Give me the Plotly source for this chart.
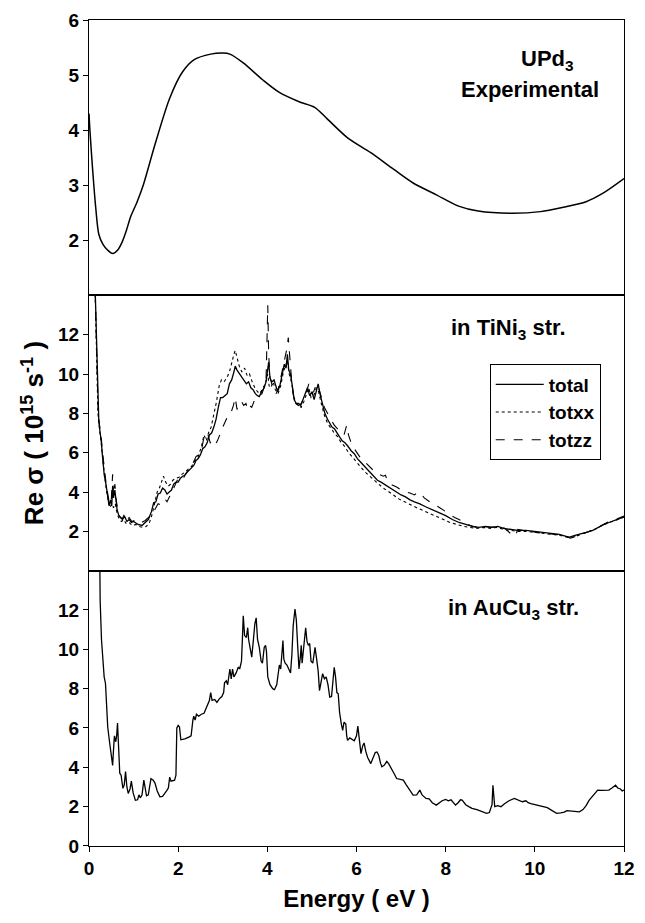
import plotly.graph_objects as go
from plotly.subplots import make_subplots

# ---------------- data ----------------
# Top panel: UPd3 experimental
exp_x = [0.0, 0.02, 0.08, 0.15, 0.22, 0.31, 0.42, 0.53, 0.65, 0.75, 0.84, 0.93, 1.08, 1.22, 1.48,
         1.81, 2.10, 2.36, 2.73, 3.0, 3.16, 3.46, 3.90, 4.26, 4.70, 5.07, 5.36, 5.80, 6.32, 6.83,
         7.27, 7.78, 8.29, 8.73, 9.47, 10.13, 10.64, 11.15, 11.52, 12.0]
exp_y = [4.3, 4.0, 3.3, 2.6, 2.11, 1.93, 1.82, 1.76, 1.83, 1.98, 2.18, 2.42, 2.70, 3.01, 3.74,
         4.58, 5.06, 5.28, 5.38, 5.40, 5.38, 5.22, 4.91, 4.69, 4.52, 4.41, 4.19, 3.86, 3.59, 3.29,
         3.04, 2.83, 2.62, 2.53, 2.49, 2.52, 2.60, 2.70, 2.85, 3.12]

# Middle panel: TiNi3 structure
total_x = [0.13, 0.17, 0.20, 0.22, 0.25, 0.27, 0.30, 0.34, 0.38, 0.41, 0.45, 0.48, 0.51, 0.53, 0.55,
           0.58, 0.60, 0.63, 0.67, 0.71, 0.75, 0.80, 0.85, 0.90, 0.95, 1.00, 1.05, 1.10, 1.19, 1.25,
           1.33, 1.40, 1.45, 1.50, 1.55, 1.60, 1.65, 1.70, 1.75, 1.80, 1.85, 1.90, 1.95, 2.00, 2.05,
           2.10, 2.15, 2.20, 2.25, 2.30, 2.35, 2.40, 2.45, 2.50, 2.55, 2.60, 2.65, 2.70, 2.75, 2.80,
           2.85, 2.90, 2.95, 3.00, 3.05, 3.10, 3.15, 3.20, 3.25, 3.28, 3.32, 3.38, 3.42, 3.47, 3.53,
           3.58, 3.63, 3.68, 3.73, 3.78, 3.82, 3.87, 3.93, 3.97, 4.00, 4.03, 4.06, 4.10, 4.15, 4.20,
           4.23, 4.28, 4.33, 4.38, 4.42, 4.45, 4.48, 4.52, 4.56, 4.60, 4.65, 4.70, 4.75, 4.80, 4.85,
           4.90, 4.95, 5.00, 5.05, 5.10, 5.14, 5.18, 5.23, 5.29, 5.35, 5.40, 5.45, 5.51, 5.56, 5.62,
           5.68, 5.74, 5.80, 5.88, 5.95, 6.02, 6.10, 6.18, 6.25, 6.32, 6.39, 6.47, 6.55, 6.62, 6.69,
           6.80, 6.90, 7.00, 7.10, 7.20, 7.30, 7.42, 7.55, 7.70, 7.86, 8.00, 8.15, 8.30, 8.45, 8.60,
           8.74, 8.90, 9.05, 9.17, 9.30, 9.45, 9.61, 9.80, 10.00, 10.20, 10.40, 10.55, 10.70, 10.78,
           10.90, 11.00, 11.15, 11.30, 11.45, 11.55, 11.66, 11.80, 11.90, 12.00]
total_y = [15.0, 11.5, 8.2, 7.6, 7.0, 6.7, 5.9, 4.9, 4.4, 3.8, 3.3, 3.6, 3.3, 4.3, 3.7,
           4.1, 3.5, 3.1, 2.8, 2.7, 2.6, 2.75, 2.5, 2.6, 2.45, 2.5, 2.4, 2.35, 2.3, 2.45,
           2.6, 3.0, 3.45, 3.5, 3.9, 3.95, 4.2, 4.1, 3.9, 4.0, 4.1, 4.4, 4.5, 4.5, 4.7,
           4.8, 4.85, 5.0, 5.1, 5.2, 5.35, 5.6, 5.7, 5.9, 6.2, 6.3, 6.5, 6.9, 7.0, 7.3,
           7.7, 8.3, 8.8, 8.8, 8.9, 9.0, 9.5, 9.7, 10.1, 10.4, 10.2, 10.0, 9.8, 9.7, 9.5,
           9.6, 9.3, 9.2, 9.0, 8.9, 8.85, 9.1, 9.3, 9.6, 10.2, 10.6, 9.8, 9.6, 9.7, 9.3,
           9.1, 9.4, 9.9, 10.5, 10.3, 11.0, 10.2, 10.0, 9.4, 8.7, 8.5, 8.5, 8.4, 8.7, 8.9,
           9.3, 8.9, 9.1, 8.7, 9.2, 9.5, 9.0, 8.6, 8.0, 7.7, 7.5, 7.3, 7.2, 7.0, 6.8,
           6.6, 6.5, 6.35, 6.1, 5.95, 5.7, 5.5, 5.3, 5.1, 4.95, 4.8, 4.6, 4.5, 4.4, 4.3,
           4.1, 4.0, 3.85, 3.75, 3.6, 3.5, 3.4, 3.25, 3.1, 2.95, 2.8, 2.6, 2.45, 2.35, 2.25,
           2.2, 2.25, 2.2, 2.25, 2.15, 2.1, 2.05, 2.05, 2.0, 1.95, 1.9, 1.85, 1.75, 1.7,
           1.8, 1.85, 1.95, 2.05, 2.25, 2.35, 2.45, 2.55, 2.65, 2.75]

totxx_x = [0.13, 0.17, 0.20, 0.24, 0.27, 0.31, 0.35, 0.39, 0.43, 0.47, 0.51, 0.55, 0.59, 0.63, 0.68,
           0.73, 0.78, 0.83, 0.90, 0.97, 1.05, 1.12, 1.20, 1.28, 1.35, 1.42, 1.48, 1.53, 1.58, 1.63,
           1.67, 1.72, 1.78, 1.83, 1.88, 1.95, 2.02, 2.08, 2.15, 2.22, 2.30, 2.38, 2.45, 2.52, 2.58,
           2.63, 2.68, 2.74, 2.80, 2.86, 2.92, 2.97, 3.03, 3.09, 3.15, 3.20, 3.25, 3.28, 3.32, 3.37,
           3.43, 3.49, 3.55, 3.60, 3.66, 3.72, 3.78, 3.83, 3.88, 3.93, 3.98, 4.01, 4.04, 4.08, 4.13,
           4.18, 4.24, 4.30, 4.36, 4.41, 4.45, 4.49, 4.54, 4.59, 4.64, 4.70, 4.76, 4.82, 4.88, 4.93,
           4.98, 5.04, 5.10, 5.15, 5.21, 5.28, 5.35, 5.43, 5.50, 5.58, 5.66, 5.74, 5.82, 5.90, 6.00,
           6.10, 6.20, 6.30, 6.40, 6.50, 6.60, 6.70, 6.82, 6.95, 7.08, 7.20, 7.35, 7.50, 7.65, 7.80,
           7.95, 8.10, 8.25, 8.40, 8.55, 8.70, 8.85, 9.00, 9.15, 9.30, 9.45, 9.60, 9.80, 10.00, 10.20,
           10.40, 10.55, 10.70, 10.80, 10.92, 11.05, 11.20, 11.35, 11.50, 11.62, 11.75, 11.88, 12.00]
totxx_y = [15.0, 11.3, 8.0, 7.1, 6.6, 5.6, 4.7, 4.1, 3.6, 3.2, 3.4, 3.2, 3.4, 2.9, 2.6,
           2.5, 2.6, 2.4, 2.45, 2.3, 2.35, 2.25, 2.2, 2.25, 2.4, 2.9, 3.5, 4.0, 4.2, 4.6,
           4.8, 4.5, 4.3, 4.4, 4.6, 4.7, 4.75, 4.9, 5.0, 5.15, 5.3, 5.6, 5.8, 6.3, 6.9,
           6.6, 7.0, 7.3, 7.9, 8.6, 9.4, 9.7, 9.6, 9.8, 10.1, 10.6, 11.0, 11.2, 10.9, 10.4,
           10.1, 10.3, 9.9, 10.0, 9.6, 9.3, 9.1, 9.0, 9.2, 9.4, 9.7, 10.0, 9.4, 9.3, 9.6,
           9.2, 9.0, 9.4, 10.1, 10.4, 10.7, 10.0, 9.6, 8.9, 8.5, 8.4, 8.3, 8.6, 9.0, 9.3,
           8.8, 8.9, 9.3, 9.1, 8.5, 7.9, 7.5, 7.2, 7.0, 6.8, 6.5, 6.3, 6.0, 5.8, 5.5,
           5.25, 5.0, 4.8, 4.55, 4.35, 4.2, 4.05, 3.85, 3.65, 3.5, 3.35, 3.2, 3.05, 2.9, 2.75,
           2.6, 2.45, 2.35, 2.25, 2.2, 2.15, 2.2, 2.15, 2.2, 2.1, 2.05, 2.0, 2.0, 1.95, 1.9,
           1.85, 1.8, 1.72, 1.68, 1.75, 1.85, 1.95, 2.1, 2.3, 2.4, 2.5, 2.62, 2.72]

totzz_x = [0.13, 0.17, 0.20, 0.23, 0.27, 0.30, 0.34, 0.38, 0.42, 0.46, 0.50, 0.53, 0.55, 0.58, 0.61,
           0.65, 0.70, 0.75, 0.80, 0.85, 0.90, 0.96, 1.02, 1.10, 1.18, 1.26, 1.33, 1.40, 1.45, 1.50,
           1.55, 1.60, 1.65, 1.70, 1.75, 1.80, 1.86, 1.92, 1.98, 2.04, 2.10, 2.16, 2.22, 2.28, 2.34,
           2.40, 2.46, 2.52, 2.58, 2.62, 2.67, 2.72, 2.78, 2.83, 2.88, 2.94, 3.00, 3.06, 3.12, 3.18,
           3.24, 3.28, 3.32, 3.37, 3.42, 3.47, 3.52, 3.56, 3.60, 3.65, 3.70, 3.76, 3.82, 3.88, 3.93,
           3.97, 3.99, 4.01, 4.03, 4.06, 4.10, 4.15, 4.20, 4.25, 4.30, 4.35, 4.40, 4.44, 4.47, 4.50,
           4.54, 4.58, 4.63, 4.70, 4.76, 4.82, 4.88, 4.93, 4.98, 5.04, 5.10, 5.15, 5.21, 5.28, 5.35,
           5.42, 5.50, 5.58, 5.65, 5.72, 5.78, 5.82, 5.88, 5.95, 6.02, 6.10, 6.20, 6.30, 6.40, 6.50,
           6.60, 6.65, 6.70, 6.80, 6.90, 7.00, 7.10, 7.20, 7.30, 7.38, 7.45, 7.52, 7.60, 7.70, 7.80,
           7.90, 8.00, 8.10, 8.20, 8.30, 8.42, 8.55, 8.70, 8.85, 9.00, 9.15, 9.30, 9.40, 9.50, 9.56,
           9.62, 9.72, 9.85, 10.00, 10.20, 10.40, 10.55, 10.70, 10.80, 10.92, 11.05, 11.20, 11.35, 11.50, 11.62,
           11.75, 11.88, 12.00]
totzz_y = [15.0, 11.8, 8.5, 7.5, 6.9, 6.1, 5.2, 4.5, 3.9, 3.4, 3.6, 4.9, 3.8, 4.4, 3.6,
           3.0, 2.7, 2.65, 2.9, 2.6, 2.7, 2.5, 2.55, 2.4, 2.45, 2.55, 2.7, 2.8, 3.0, 3.2,
           3.4, 3.35, 3.5, 3.65, 3.5, 3.7, 4.0, 4.3, 4.6, 4.7, 4.6, 4.9, 5.1, 5.2, 5.5,
           5.8, 5.9, 6.1, 6.8, 6.7, 6.9, 6.5, 6.6, 6.4, 6.6, 7.0, 7.3, 7.6, 7.9, 8.0,
           8.4, 8.8, 8.2, 8.3, 8.6, 8.4, 8.5, 8.2, 8.4, 8.3, 8.6, 8.7, 8.9, 9.0, 9.3,
           9.6, 11.5, 13.5, 11.0, 9.8, 9.5, 9.3, 9.0, 9.3, 9.8, 10.3, 10.8, 11.3, 11.85, 10.9,
           9.8, 9.0, 8.5, 8.4, 8.5, 8.8, 9.1, 9.5, 9.0, 9.1, 9.5, 9.3, 8.8, 8.3, 8.0,
           7.7, 7.4, 7.2, 7.0, 6.9, 7.4, 6.9, 6.5, 6.2, 5.95, 5.7, 5.5, 5.25, 5.05, 4.9,
           4.8, 4.85, 4.5, 4.35, 4.25, 4.1, 4.0, 3.95, 3.85, 4.0, 3.9, 3.7, 3.55, 3.4, 3.3,
           3.15, 3.0, 2.85, 2.7, 2.6, 2.45, 2.3, 2.2, 2.25, 2.2, 2.25, 2.2, 2.0, 1.8, 1.75,
           2.1, 2.05, 2.05, 1.95, 1.9, 1.88, 1.82, 1.72, 1.65, 1.75, 1.85, 1.95, 2.1, 2.3, 2.45,
           2.55, 2.65, 2.78]

# Bottom panel: AuCu3 structure
au_x = [0.24, 0.25, 0.28, 0.32, 0.34, 0.37, 0.40, 0.42, 0.46, 0.50, 0.53, 0.55, 0.57, 0.60, 0.62,
        0.64, 0.66, 0.69, 0.72, 0.76, 0.79, 0.82, 0.85, 0.88, 0.92, 0.95, 0.99, 1.04, 1.09, 1.12,
        1.15, 1.19, 1.23, 1.26, 1.29, 1.33, 1.36, 1.39, 1.44, 1.48, 1.53, 1.59, 1.65, 1.70, 1.74,
        1.78, 1.81, 1.84, 1.92, 1.95, 1.97, 2.00, 2.03, 2.06, 2.15, 2.25, 2.29, 2.33, 2.35, 2.38,
        2.41, 2.46, 2.52, 2.58, 2.64, 2.70, 2.73, 2.76, 2.82, 2.87, 2.93, 2.98, 3.02, 3.04, 3.08,
        3.11, 3.16, 3.19, 3.22, 3.25, 3.30, 3.35, 3.38, 3.42, 3.44, 3.46, 3.49, 3.53, 3.56, 3.58,
        3.62, 3.65, 3.68, 3.72, 3.75, 3.78, 3.82, 3.86, 3.89, 3.93, 3.96, 3.98, 4.01, 4.06, 4.12,
        4.16, 4.21, 4.25, 4.27, 4.30, 4.32, 4.35, 4.37, 4.40, 4.44, 4.48, 4.52, 4.55, 4.58, 4.62,
        4.65, 4.68, 4.71, 4.74, 4.76, 4.78, 4.81, 4.84, 4.86, 4.89, 4.92, 4.95, 4.98, 5.02, 5.05,
        5.07, 5.10, 5.14, 5.17, 5.20, 5.24, 5.28, 5.32, 5.36, 5.40, 5.44, 5.47, 5.50, 5.53, 5.56,
        5.59, 5.62, 5.66, 5.69, 5.72, 5.76, 5.78, 5.80, 5.85, 5.90, 5.95, 6.00, 6.03, 6.06, 6.10,
        6.14, 6.17, 6.21, 6.25, 6.32, 6.36, 6.42, 6.46, 6.50, 6.54, 6.57, 6.62, 6.68, 6.72, 6.78,
        6.84, 6.90, 6.97, 7.05, 7.12, 7.20, 7.27, 7.35, 7.42, 7.47, 7.56, 7.63, 7.70, 7.79, 7.86,
        7.92, 8.00, 8.06, 8.12, 8.18, 8.22, 8.28, 8.33, 8.37, 8.45, 8.52, 8.59, 8.70, 8.80, 8.92,
        8.98, 9.02, 9.04, 9.06, 9.08, 9.10, 9.17, 9.24, 9.32, 9.42, 9.54, 9.62, 9.72, 9.80, 9.85,
        9.91, 10.00, 10.10, 10.20, 10.28, 10.35, 10.42, 10.49, 10.58, 10.66, 10.72, 10.78, 10.88, 11.00, 11.08,
        11.15, 11.22, 11.30, 11.36, 11.41, 11.50, 11.58, 11.66, 11.73, 11.81, 11.86, 11.92, 11.96, 12.00]
au_y = [15.0, 12.5, 10.5, 8.9, 8.6, 8.25, 7.0, 6.05, 5.3, 4.6, 4.1, 4.9, 5.6, 5.3, 5.6,
        6.25, 5.0, 3.7, 3.6, 2.93, 3.1, 3.78, 3.0, 2.67, 2.9, 3.3, 2.7, 2.33, 2.35, 2.6,
        2.45, 2.6, 3.35, 2.8, 2.55, 2.6, 3.1, 3.43, 3.35, 3.2, 2.8, 2.5, 2.52, 2.65, 2.8,
        2.95, 3.5, 3.3, 3.35, 3.6, 6.0, 6.13, 6.05, 5.4, 5.45, 5.55, 5.6, 6.4, 6.6, 6.4,
        6.7, 6.6, 6.7, 6.75, 7.1, 7.4, 7.8, 7.4, 7.45, 7.3, 7.5, 7.6, 7.8, 8.3, 8.4,
        8.2, 9.0, 8.5, 9.0, 8.6, 8.8, 9.1, 9.0, 9.4, 10.5, 11.7, 10.7, 10.6, 11.1, 10.5,
        10.0, 9.6, 10.3, 11.3, 11.6, 10.5, 10.1, 9.4, 9.3, 10.1, 10.2, 9.9, 8.6, 8.2, 8.0,
        7.95, 8.2, 8.8, 9.2, 9.0, 9.5, 10.45, 9.5, 9.3, 9.2, 9.0, 8.8, 9.7, 11.2, 12.05,
        11.5, 10.2, 9.0, 9.6, 10.2, 9.3, 9.9, 10.5, 11.1, 10.4, 10.2, 10.3, 9.4, 9.3, 10.0,
        10.1, 9.6, 8.9, 7.9, 8.3, 8.76, 8.5, 8.6, 8.2, 7.57, 7.6, 8.5, 9.09, 8.6, 7.8,
        7.74, 6.8, 6.2, 5.88, 6.3, 6.2, 5.6, 5.37, 5.5, 5.4, 5.35, 5.6, 6.1, 5.5, 4.7,
        5.1, 5.24, 4.8, 4.5, 4.19, 4.4, 4.75, 4.78, 4.6, 4.2, 4.03, 4.1, 4.3, 4.19, 3.9,
        3.7, 3.43, 3.4, 3.35, 3.1, 2.8, 2.59, 2.6, 2.84, 2.6, 2.42, 2.4, 2.2, 2.08, 2.2,
        2.3, 2.37, 2.3, 2.35, 2.2, 2.08, 2.2, 2.35, 2.33, 2.1, 2.0, 1.91, 1.85, 1.75, 1.66,
        1.7, 2.0, 2.1, 3.09, 2.3, 2.0, 2.05, 2.0, 2.15, 2.3, 2.42, 2.35, 2.25, 2.3, 2.2,
        2.16, 2.1, 2.05, 2.0, 1.95, 1.85, 1.75, 1.66, 1.68, 1.72, 1.8, 1.79, 1.75, 1.74, 1.85,
        2.05, 2.33, 2.55, 2.75, 2.84, 2.83, 2.85, 2.84, 2.95, 3.09, 2.95, 2.9, 2.8, 2.84]

x_ticks = [0, 2, 4, 6, 8, 10, 12]
top_ticks = [2, 3, 4, 5, 6]
mid_ticks = [2, 4, 6, 8, 10, 12]
bot_ticks = [0, 2, 4, 6, 8, 10, 12]

# ---------------- figure ----------------
FONT = "Liberation Sans, Arial, sans-serif"
fig = make_subplots(rows=3, cols=1, shared_xaxes=True, vertical_spacing=0)

fig.add_trace(go.Scatter(x=exp_x, y=exp_y, mode="lines",
                         line=dict(color="black", width=1.5, shape="spline", smoothing=0.8),
                         showlegend=False), row=1, col=1)

fig.add_trace(go.Scatter(x=total_x, y=total_y, mode="lines", name="total",
                         line=dict(color="black", width=1.3)), row=2, col=1)
fig.add_trace(go.Scatter(x=totxx_x, y=totxx_y, mode="lines", name="totxx",
                         line=dict(color="black", width=1.1, dash="dot")), row=2, col=1)
fig.add_trace(go.Scatter(x=totzz_x, y=totzz_y, mode="lines", name="totzz",
                         line=dict(color="black", width=1.1, dash="dash")), row=2, col=1)

fig.add_trace(go.Scatter(x=au_x, y=au_y, mode="lines", line=dict(color="black", width=1.3),
                         showlegend=False), row=3, col=1)

tickfont = dict(family=FONT, size=19, color="black", weight="bold")
axis_common = dict(showline=True, linecolor="black", linewidth=1, mirror=True, showgrid=False,
                   zeroline=False, tickfont=tickfont, tickcolor="black")

for r in (1, 2, 3):
    fig.update_xaxes(range=[0, 12], tickvals=x_ticks, row=r, col=1, **axis_common,
                     ticks="outside" if r == 3 else "", ticklen=5, showticklabels=(r == 3))

fig.update_yaxes(range=[1, 6], tickvals=top_ticks, ticks="outside", ticklen=5, row=1, col=1, **axis_common)
fig.update_yaxes(range=[0, 14], tickvals=mid_ticks, ticks="outside", ticklen=5, row=2, col=1, **axis_common)
fig.update_yaxes(range=[0, 14], tickvals=bot_ticks, ticks="outside", ticklen=5, row=3, col=1, **axis_common)

fig.update_xaxes(title=dict(text="Energy ( eV )", font=dict(family=FONT, size=24, color="black", weight="bold"),
                            standoff=12), row=3, col=1)
fig.update_yaxes(title=dict(text="Re σ ( 10<sup>15</sup> s<sup>-1</sup> )",
                            font=dict(family=FONT, size=26, color="black", weight="bold"), standoff=6),
                 row=2, col=1)

ann_font = dict(family=FONT, size=22, color="black", weight="bold")
fig.add_annotation(x=10.28, y=5.28, xref="x", yref="y", text="UPd<sub>3</sub>", showarrow=False, font=ann_font)
fig.add_annotation(x=9.9, y=4.73, xref="x", yref="y", text="Experimental", showarrow=False, font=ann_font)
fig.add_annotation(x=9.42, y=12.3, xref="x2", yref="y2", text="in TiNi<sub>3</sub> str.", showarrow=False, font=ann_font)
fig.add_annotation(x=9.53, y=12.05, xref="x3", yref="y3", text="in AuCu<sub>3</sub> str.", showarrow=False, font=ann_font)

fig.update_layout(
    width=645, height=923,
    margin=dict(l=89, r=10, t=15, b=77),
    plot_bgcolor="white", paper_bgcolor="white",
    font=dict(family=FONT, color="black"),
    legend=dict(x=0.749, y=0.583, xanchor="left", yanchor="top",
                bordercolor="black", borderwidth=1, bgcolor="white",
                font=dict(family=FONT, size=19, color="black", weight="bold"),
                tracegroupgap=0, itemwidth=48),
)

fig.write_html("out.html")
